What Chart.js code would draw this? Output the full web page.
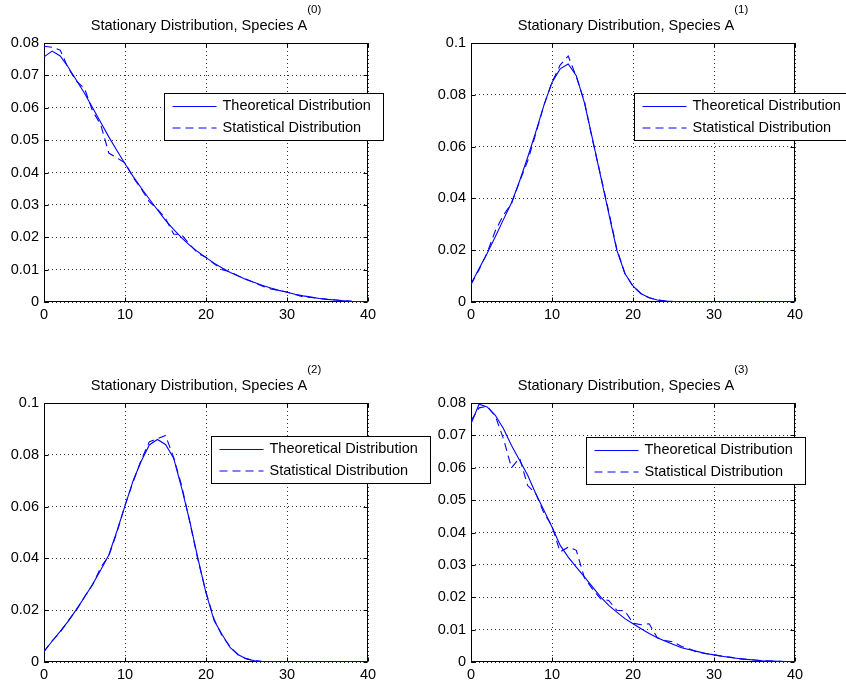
<!DOCTYPE html>
<html><head><meta charset="utf-8">
<script src="https://cdn.jsdelivr.net/npm/chart.js@4.4.1/dist/chart.umd.min.js"></script>
<style>
html,body{margin:0;padding:0;background:#fff;}
#wrap{position:relative;width:846px;height:682px;overflow:hidden;background:#fff;}
#wrap canvas{position:absolute;left:0;top:0;}
</style></head><body>
<div id="wrap">
<canvas id="c0" width="846" height="682"></canvas>
<canvas id="c1" width="846" height="682"></canvas>
<canvas id="c2" width="846" height="682"></canvas>
<canvas id="c3" width="846" height="682"></canvas>
</div>
<script>
// ---- data ----
const xValues = [0,1,2,3,4,5,6,7,8,9,10,11,12,13,14,15,16,17,18,19,20,21,22,23,24,25,26,27,28,29,30,31,32,33,34,35,36,37,38,39,40];

const theoA0 = [0.0757,0.0775,0.0760,0.0725,0.0685,0.0645,0.0600,0.0555,0.0510,0.0468,0.0427,0.0388,0.0352,0.0318,0.0285,0.0252,0.0224,0.0198,0.0175,0.0155,0.0137,0.0120,0.0105,0.0091,0.0080,0.0069,0.0060,0.0051,0.0043,0.0036,0.0030,0.0024,0.0019,0.0015,0.0011,0.0008,0.0006,0.0004,0.0002,0.0001,0.0000];
const statA0 = [0.0790,0.0787,0.0778,0.0722,0.0682,0.0660,0.0590,0.0548,0.0460,0.0445,0.0430,0.0385,0.0350,0.0310,0.0287,0.0258,0.0210,0.0207,0.0178,0.0150,0.0138,0.0118,0.0100,0.0093,0.0080,0.0070,0.0059,0.0049,0.0040,0.0036,0.0031,0.0023,0.0016,0.0014,0.0011,0.0008,0.0006,0.0004,0.0002,0.0001,0.0000];

const theoA1 = [0.0070,0.0129,0.0188,0.0252,0.0318,0.0383,0.0467,0.0559,0.0657,0.0759,0.0848,0.0900,0.0919,0.0874,0.0770,0.0630,0.0486,0.0343,0.0200,0.0110,0.0062,0.0032,0.0016,0.0008,0.0004,0.0002,0.0001,0,0,0,0,0,0,0,0,0,0,0,0,0,0];
const statA1 = [0.0068,0.0125,0.0190,0.0275,0.0335,0.0380,0.0465,0.0545,0.0650,0.0760,0.0848,0.0915,0.0950,0.0870,0.0775,0.0625,0.0490,0.0350,0.0205,0.0110,0.0060,0.0032,0.0016,0.0008,0.0004,0.0002,0.0001,0,0,0,0,0,0,0,0,0,0,0,0,0,0];

const theoA2 = [0.0041,0.0080,0.0118,0.0158,0.0203,0.0250,0.0300,0.0355,0.0413,0.0505,0.0603,0.0700,0.0775,0.0838,0.0859,0.0840,0.0788,0.0671,0.0543,0.0400,0.0267,0.0160,0.0105,0.0055,0.0028,0.0012,0.0005,0.0002,0.0001,0,0,0,0,0,0,0,0,0,0,0,0];
const statA2 = [0.0040,0.0082,0.0115,0.0160,0.0200,0.0252,0.0298,0.0365,0.0410,0.0500,0.0605,0.0695,0.0780,0.0850,0.0862,0.0875,0.0790,0.0680,0.0540,0.0395,0.0270,0.0165,0.0100,0.0058,0.0026,0.0013,0.0005,0.0002,0.0001,0,0,0,0,0,0,0,0,0,0,0,0];

const theoA3 = [0.0736,0.0796,0.0788,0.0762,0.0721,0.0669,0.0623,0.0577,0.0520,0.0469,0.0417,0.0361,0.0324,0.0293,0.0263,0.0232,0.0201,0.0175,0.0154,0.0134,0.0118,0.0103,0.0088,0.0075,0.0064,0.0054,0.0044,0.0038,0.0032,0.0026,0.0022,0.0018,0.0014,0.0011,0.0008,0.0006,0.0004,0.0003,0.0002,0.0001,0.0000];
const statA3 = [0.0745,0.0785,0.0790,0.0760,0.0690,0.0600,0.0630,0.0545,0.0520,0.0460,0.0420,0.0340,0.0355,0.0345,0.0260,0.0225,0.0195,0.0190,0.0160,0.0158,0.0120,0.0115,0.0118,0.0075,0.0066,0.0062,0.0048,0.0040,0.0030,0.0026,0.0022,0.0018,0.0015,0.0010,0.0008,0.0006,0.0004,0.0003,0.0002,0.0001,0.0000];

const titleMain = 'Stationary Distribution, Species A';
const titleSups = ['(0)', '(1)', '(2)', '(3)'];
const legendLabels = ['Theoretical Distribution', 'Statistical Distribution'];
const xTickStep = 10;
const yMaxes = [0.08, 0.1, 0.1, 0.08];
const yTickSteps = [0.01, 0.02, 0.02, 0.01];

// ---- layout (pixels) ----
const W = 846, H = 682;
const panels = [
  {id:'c0', theo: theoA0, stat: statA0, area:{l:44, t:43, r:368, b:302}, leg:{l:164.5, t:93.5}},
  {id:'c1', theo: theoA1, stat: statA1, area:{l:471, t:43, r:795, b:302}, leg:{l:634.5, t:93.5}},
  {id:'c2', theo: theoA2, stat: statA2, area:{l:44, t:403, r:368, b:662}, leg:{l:211.5, t:436.5}},
  {id:'c3', theo: theoA3, stat: statA3, area:{l:471, t:403, r:795, b:662}, leg:{l:586.5, t:437.5}}
];
const Y_AXIS_W = 44, X_AXIS_H = 18;
const FONT = '"Liberation Sans", Arial, Helvetica, sans-serif';
const BLUE = '#0000ff';
const DASH = [8, 5];

const decor = {
  id: 'matlabDecor',
  beforeDatasetsDraw(chart, args, opts) {
    const ctx = chart.ctx, a = chart.chartArea;
    const xs = chart.scales.x, ys = chart.scales.y;
    ctx.save();
    ctx.strokeStyle = '#000';
    ctx.lineWidth = 1;
    ctx.setLineDash([]);
    const L = Math.round(a.left) + 0.5, R = Math.round(a.right) - 0.5;
    const T = Math.round(a.top) + 0.5, B = Math.round(a.bottom) - 0.5;
    ctx.strokeRect(L, T, R - L, B - T);
    const tl = 4;
    ctx.beginPath();
    xs.ticks.forEach(tk => {
      const px = Math.round(xs.getPixelForValue(tk.value)) + 0.5;
      ctx.moveTo(px, B); ctx.lineTo(px, B - tl);
      ctx.moveTo(px, T); ctx.lineTo(px, T + tl);
    });
    ys.ticks.forEach(tk => {
      const py = Math.round(ys.getPixelForValue(tk.value)) + 0.5;
      ctx.moveTo(L, py); ctx.lineTo(L + tl, py);
      ctx.moveTo(R, py); ctx.lineTo(R - tl, py);
    });
    ctx.stroke();
    ctx.restore();
  },
  afterDraw(chart, args, opts) {
    const ctx = chart.ctx, a = chart.chartArea;
    ctx.save();
    // title with superscript
    const mainFont = '14.6px ' + FONT, supFont = '11.5px ' + FONT;
    ctx.font = mainFont;
    const w1 = ctx.measureText(opts.main).width;
    ctx.font = supFont;
    const w2 = ctx.measureText(opts.sup).width;
    const cx = (a.left + a.right) / 2;
    const x0 = cx - (w1 + w2) / 2;
    const base = a.top - 13;
    ctx.fillStyle = '#000';
    ctx.textBaseline = 'alphabetic';
    ctx.textAlign = 'left';
    ctx.font = mainFont;
    ctx.fillText(opts.main, x0, base);
    ctx.font = supFont;
    ctx.fillText(opts.sup, x0 + w1, base - 17);
    // legend box
    const lg = opts.legend;
    const bw = 219, bh = 47;
    ctx.fillStyle = '#fff';
    ctx.fillRect(lg.l, lg.t, bw, bh);
    ctx.strokeStyle = '#000';
    ctx.lineWidth = 1;
    ctx.strokeRect(lg.l, lg.t, bw, bh);
    const r1 = Math.round(lg.t + 12.5) + 0.5, r2 = Math.round(lg.t + 34.5);
    ctx.strokeStyle = BLUE;
    ctx.beginPath(); ctx.moveTo(lg.l + 8, r1); ctx.lineTo(lg.l + 52, r1); ctx.stroke();
    ctx.setLineDash(DASH);
    ctx.beginPath(); ctx.moveTo(lg.l + 8, r2); ctx.lineTo(lg.l + 52, r2); ctx.stroke();
    ctx.setLineDash([]);
    ctx.fillStyle = '#000';
    ctx.font = '14.5px ' + FONT;
    ctx.textBaseline = 'middle';
    ctx.fillText(opts.labels[0], lg.l + 58, lg.t + 12.5);
    ctx.fillText(opts.labels[1], lg.l + 58, lg.t + 34.5);
    ctx.restore();
  }
};

panels.forEach((p, i) => {
  const ctx = document.getElementById(p.id).getContext('2d');
  new Chart(ctx, {
    type: 'line',
    data: {
      datasets: [
        {
          label: legendLabels[0],
          data: xValues.map((x, k) => ({x: x, y: p.theo[k]})),
          borderColor: BLUE, borderWidth: 1.1, pointRadius: 0, tension: 0, fill: false
        },
        {
          label: legendLabels[1],
          data: xValues.map((x, k) => ({x: x, y: p.stat[k]})),
          borderColor: BLUE, borderWidth: 1.1, borderDash: DASH, pointRadius: 0, tension: 0, fill: false
        }
      ]
    },
    options: {
      responsive: false,
      animation: false,
      devicePixelRatio: 1,
      events: [],
      layout: {
        padding: {
          left: p.area.l - Y_AXIS_W,
          right: W - p.area.r,
          top: p.area.t,
          bottom: H - p.area.b - X_AXIS_H
        }
      },
      scales: {
        x: {
          type: 'linear',
          min: 0, max: 40,
          afterFit(s) { s.height = X_AXIS_H; },
          ticks: {
            stepSize: xTickStep, color: '#000', padding: 4, maxRotation: 0, autoSkip: false,
            font: {family: FONT, size: 14.5}
          },
          grid: { color: '#333', lineWidth: 1, drawTicks: false },
          border: { display: false, dash: [1, 3] }
        },
        y: {
          type: 'linear',
          min: 0, max: yMaxes[i],
          afterFit(s) { s.width = Y_AXIS_W; },
          ticks: {
            stepSize: yTickSteps[i], color: '#000', padding: 5, autoSkip: false,
            font: {family: FONT, size: 14.5},
            callback: v => String(+v.toFixed(3))
          },
          grid: { color: '#333', lineWidth: 1, drawTicks: false },
          border: { display: false, dash: [1, 3] }
        }
      },
      plugins: {
        legend: { display: false },
        tooltip: { enabled: false },
        matlabDecor: { main: titleMain, sup: titleSups[i], legend: p.leg, labels: legendLabels }
      }
    },
    plugins: [decor]
  });
});
</script>
</body></html>
